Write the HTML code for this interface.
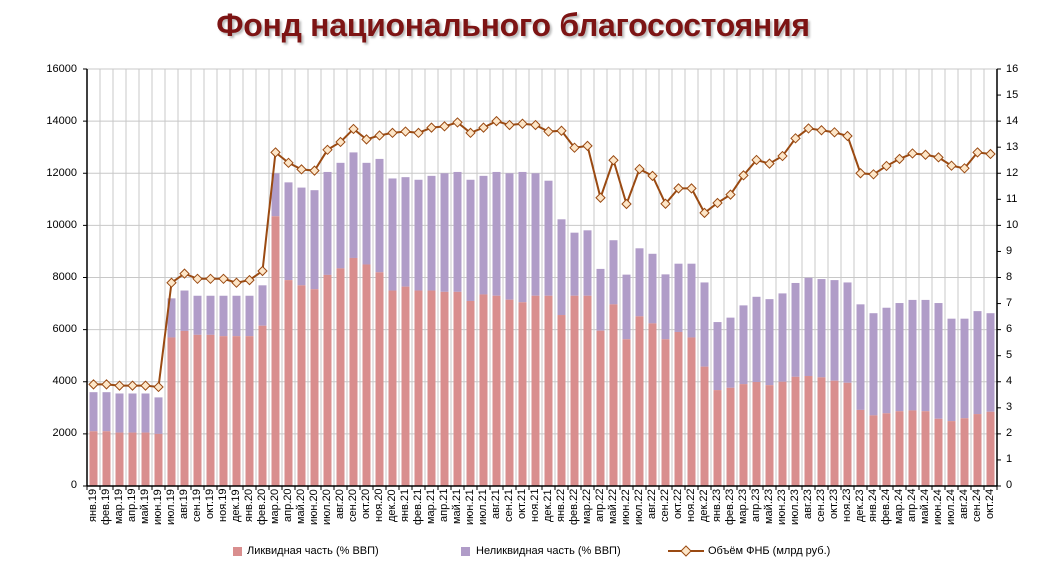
<!DOCTYPE html>
<html><head><meta charset="utf-8"><style>
body{margin:0;background:#fff;width:1052px;height:582px;overflow:hidden;position:relative;font-family:"Liberation Sans",sans-serif}
.t{position:absolute;left:0;width:1026px;top:7px;text-align:center;font-weight:bold;font-size:32px;color:#7d1414;text-shadow:2px 2px 2px #bbb;letter-spacing:-0.3px}
.xl{position:absolute;left:87px;top:489px;display:flex}
.xl span{width:13px;height:50px;writing-mode:vertical-rl;transform:rotate(180deg);text-align:end;font-size:11px;line-height:13px;color:#000;white-space:nowrap}
.yl{position:absolute;font-size:11px;color:#000}
.lg{position:absolute;top:545px;font-size:11px;color:#000}
</style></head><body>
<div class="t">Фонд национального благосостояния</div>
<svg id="s" width="1052" height="582" style="position:absolute;left:0;top:0"></svg>
<div class="xl">
<span>янв.19</span><span>фев.19</span><span>мар.19</span><span>апр.19</span><span>май.19</span><span>июн.19</span><span>июл.19</span><span>авг.19</span><span>сен.19</span><span>окт.19</span><span>ноя.19</span><span>дек.19</span>
<span>янв.20</span><span>фев.20</span><span>мар.20</span><span>апр.20</span><span>май.20</span><span>июн.20</span><span>июл.20</span><span>авг.20</span><span>сен.20</span><span>окт.20</span><span>ноя.20</span><span>дек.20</span>
<span>янв.21</span><span>фев.21</span><span>мар.21</span><span>апр.21</span><span>май.21</span><span>июн.21</span><span>июл.21</span><span>авг.21</span><span>сен.21</span><span>окт.21</span><span>ноя.21</span><span>дек.21</span>
<span>янв.22</span><span>фев.22</span><span>мар.22</span><span>апр.22</span><span>май.22</span><span>июн.22</span><span>июл.22</span><span>авг.22</span><span>сен.22</span><span>окт.22</span><span>ноя.22</span><span>дек.22</span>
<span>янв.23</span><span>фев.23</span><span>мар.23</span><span>апр.23</span><span>май.23</span><span>июн.23</span><span>июл.23</span><span>авг.23</span><span>сен.23</span><span>окт.23</span><span>ноя.23</span><span>дек.23</span>
<span>янв.24</span><span>фев.24</span><span>мар.24</span><span>апр.24</span><span>май.24</span><span>июн.24</span><span>июл.24</span><span>авг.24</span><span>сен.24</span><span>окт.24</span>
</div>
<div class="yl" style="right:975px;top:63px">16000</div>
<div class="yl" style="right:975px;top:115px">14000</div>
<div class="yl" style="right:975px;top:167px">12000</div>
<div class="yl" style="right:975px;top:219px">10000</div>
<div class="yl" style="right:975px;top:271px">8000</div>
<div class="yl" style="right:975px;top:323px">6000</div>
<div class="yl" style="right:975px;top:375px">4000</div>
<div class="yl" style="right:975px;top:427px">2000</div>
<div class="yl" style="right:975px;top:479px">0</div>
<div class="yl" style="left:1006px;top:63px">16</div><div class="yl" style="left:1006px;top:89px">15</div>
<div class="yl" style="left:1006px;top:115px">14</div><div class="yl" style="left:1006px;top:141px">13</div>
<div class="yl" style="left:1006px;top:167px">12</div><div class="yl" style="left:1006px;top:193px">11</div>
<div class="yl" style="left:1006px;top:219px">10</div><div class="yl" style="left:1006px;top:245px">9</div>
<div class="yl" style="left:1006px;top:271px">8</div><div class="yl" style="left:1006px;top:297px">7</div>
<div class="yl" style="left:1006px;top:323px">6</div><div class="yl" style="left:1006px;top:349px">5</div>
<div class="yl" style="left:1006px;top:375px">4</div><div class="yl" style="left:1006px;top:401px">3</div>
<div class="yl" style="left:1006px;top:427px">2</div><div class="yl" style="left:1006px;top:453px">1</div>
<div class="yl" style="left:1006px;top:479px">0</div>
<div class="lg" style="left:233px;top:547px;width:9px;height:9px;background:#d98e8e"></div>
<div class="lg" style="left:247px">Ликвидная часть (% ВВП)</div>
<div class="lg" style="left:461px;top:547px;width:9px;height:9px;background:#b09cc8"></div>
<div class="lg" style="left:476px">Неликвидная часть (% ВВП)</div>
<svg style="position:absolute;left:668px;top:544px" width="36" height="14"><line x1="0" y1="7" x2="36" y2="7" stroke="#9a4a12" stroke-width="2"/><path d="M18 2 L23 7 L18 12 L13 7Z" fill="#fde6c8" stroke="#9a4a12"/></svg>
<div class="lg" style="left:708px">Объём ФНБ (млрд руб.)</div>
<script>
var T=[3600,3600,3550,3550,3550,3400,7200,7500,7300,7300,7300,7300,7300,7700,12000,11650,11450,11350,12050,12400,12800,12400,12550,11800,11850,11750,11900,12000,12050,11750,11900,12050,12000,12050,12000,11714,10233,9720,9810,8330,9430,8110,9120,8910,8120,8530,8530,7810,6290,6460,6930,7260,7170,7390,7790,7990,7940,7900,7810,6970,6630,6840,7020,7140,7140,7020,6420,6420,6710,6630];
var L=[2100,2100,2050,2050,2050,2000,5700,5950,5800,5800,5750,5750,5750,6150,10350,7900,7700,7550,8100,8350,8750,8500,8200,7500,7650,7500,7500,7450,7450,7100,7350,7300,7150,7050,7300,7300,6560,7300,7300,5960,6970,5630,6510,6240,5630,5910,5700,4580,3680,3770,3910,3990,3870,4000,4190,4220,4170,4040,3960,2920,2710,2790,2870,2900,2870,2580,2490,2600,2760,2850];
var F=[3.9,3.9,3.85,3.85,3.85,3.8,7.8,8.15,7.95,7.95,7.95,7.8,7.9,8.25,12.8,12.4,12.15,12.1,12.9,13.2,13.7,13.3,13.45,13.55,13.6,13.55,13.75,13.8,13.95,13.55,13.75,14.0,13.85,13.9,13.85,13.6,13.63,12.98,13.05,11.06,12.5,10.82,12.16,11.9,10.83,11.42,11.42,10.48,10.86,11.18,11.92,12.51,12.37,12.66,13.34,13.72,13.65,13.57,13.43,12.0,11.96,12.28,12.55,12.76,12.71,12.61,12.29,12.19,12.8,12.74];
var x0=87,x1=997,y0=486,H=417,w=13,h='';
function Y(v){return y0-v/16000*H}
for(var i=0;i<=16;i+=2)h+='<line x1="'+x0+'" x2="'+x1+'" y1="'+Y(i*1000)+'" y2="'+Y(i*1000)+'" stroke="#c8c8c8"/>';
for(var i=1;i<70;i++)h+='<line x1="'+(x0+i*w)+'" x2="'+(x0+i*w)+'" y1="'+Y(16000)+'" y2="'+y0+'" stroke="#c8c8c8"/>';
for(var i=0;i<70;i++){var bx=x0+i*w+2.5;h+='<rect x="'+bx+'" y="'+Y(T[i])+'" width="8" height="'+(Y(L[i])-Y(T[i]))+'" fill="#b09cc8"/><rect x="'+bx+'" y="'+Y(L[i])+'" width="8" height="'+(y0-Y(L[i]))+'" fill="#d98e8e"/>';}
h+='<line x1="'+x0+'" x2="'+x0+'" y1="'+Y(16000)+'" y2="'+y0+'" stroke="#000" stroke-width="1.5"/><line x1="'+x1+'" x2="'+x1+'" y1="'+Y(16000)+'" y2="'+y0+'" stroke="#000" stroke-width="1.5"/><line x1="'+x0+'" x2="'+x1+'" y1="'+y0+'" y2="'+y0+'" stroke="#000" stroke-width="1.5"/>';
for(var i=0;i<=16;i+=2)h+='<line x1="'+(x0-4)+'" x2="'+x0+'" y1="'+Y(i*1000)+'" y2="'+Y(i*1000)+'" stroke="#000"/>';
for(var i=0;i<=16;i++)h+='<line x1="'+x1+'" x2="'+(x1+4)+'" y1="'+Y(i*1000)+'" y2="'+Y(i*1000)+'" stroke="#000"/>';
for(var i=0;i<=70;i++)h+='<line x1="'+(x0+i*w)+'" x2="'+(x0+i*w)+'" y1="'+y0+'" y2="'+(y0+4)+'" stroke="#000"/>';
var p='';for(var i=0;i<70;i++)p+=(i?'L':'M')+(x0+i*w+6.5)+' '+Y(F[i]*1000);
h+='<path d="'+p+'" fill="none" stroke="#9a4a12" stroke-width="2"/>';
for(var i=0;i<70;i++){var cx=x0+i*w+6.5,cy=Y(F[i]*1000);h+='<path d="M'+cx+' '+(cy-4.5)+'L'+(cx+4.5)+' '+cy+'L'+cx+' '+(cy+4.5)+'L'+(cx-4.5)+' '+cy+'Z" fill="#fde6c8" stroke="#9a4a12" stroke-width="1"/>';}
document.getElementById('s').innerHTML=h;
</script>
</body></html>
